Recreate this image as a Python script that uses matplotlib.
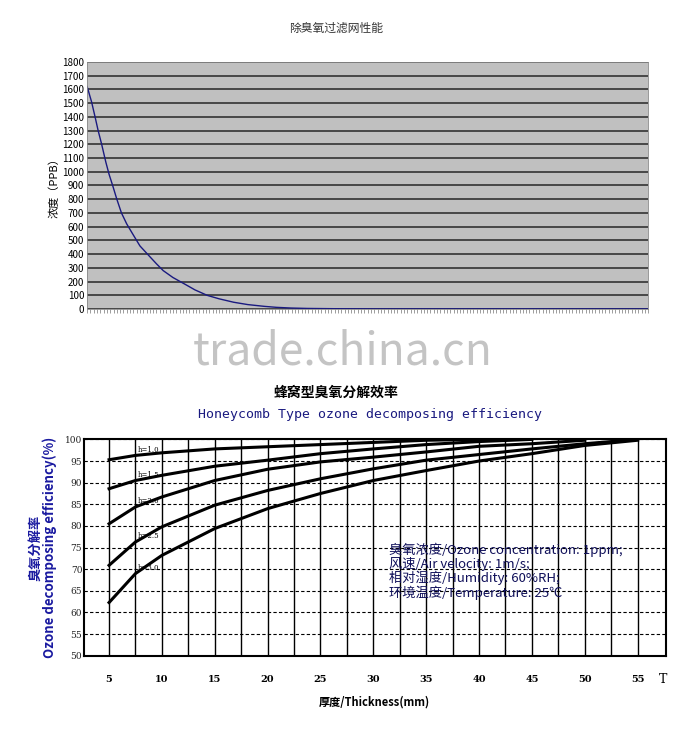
import matplotlib
matplotlib.use("Agg")
import matplotlib.pyplot as plt
import numpy as np

plt.rcParams['font.family'] = ['Noto Sans CJK SC', 'DejaVu Sans']

# top chart data (read points)
t_x = [0, 2, 3.6, 5, 6.6, 8.5, 10, 11.6, 13.5, 15.6, 18, 20.6, 24, 28.6, 31.5, 34.6, 39, 44.6,
       49, 54.6, 60, 66.6, 73, 80.6, 86, 92.6, 100, 112.6, 130, 150, 200, 255]
t_y = [1620, 1510, 1400, 1300, 1200, 1070, 980, 900, 800, 700, 620, 550, 460, 380, 330, 280,
       230, 180, 140, 100, 75, 50, 33, 20, 13, 8, 5, 3, 2, 2, 2, 2]
top_yticks = list(range(0, 1900, 100))

# bottom chart data
thick = [5, 7.5, 10, 15, 20, 25, 30, 35, 40, 45, 50, 55]
h10 = [95.3, 96.3, 96.9, 97.8, 98.3, 98.8, 99.3, 99.8, 100, None, None, None]
h15 = [88.6, 90.5, 91.7, 93.8, 95.2, 96.7, 97.8, 98.8, 99.5, 100, None, None]
h20 = [80.5, 84.4, 86.7, 90.5, 93.1, 94.8, 95.9, 97.1, 98.4, 99.0, 99.8, None]
h25 = [70.9, 76.3, 79.8, 84.8, 88.2, 90.9, 93.2, 95.2, 96.5, 97.8, 99.0, 100]
h30 = [62.3, 69.0, 73.2, 79.4, 84.0, 87.5, 90.5, 92.8, 95.0, 96.7, 98.6, 99.8]
series = [("h=1.0", h10), ("h=1.5", h15), ("h=2.0", h20), ("h=2.5", h25), ("h=3.0", h30)]
x_ticks = [5, 10, 15, 20, 25, 30, 35, 40, 45, 50, 55]
y_ticks = list(range(50, 101, 5))

fig = plt.figure(figsize=(6.86, 7.36), dpi=100)

# ---- top chart
ax1 = fig.add_axes([0.127, 0.580, 0.818, 0.336])
ax1.set_facecolor('#c0c0c0')
ax1.plot(t_x, t_y, color='#1a1a80', lw=1.0)
ax1.set_xlim(0, 255)
ax1.set_ylim(0, 1800)
ax1.set_yticks(top_yticks)
ax1.tick_params(axis='y', labelsize=7, length=0, pad=2)
ax1.set_xticks(np.arange(0, 256, 1.5))
ax1.tick_params(axis='x', length=3, labelbottom=False, color='#555555', width=0.4)
ax1.grid(axis='y', color='#333333', lw=1.2)
ax1.set_axisbelow(True)
for s in ax1.spines.values():
    s.set_color('#888888'); s.set_linewidth(0.6)
ax1.set_ylabel('浓度（PPB）', fontsize=8, labelpad=2)
fig.text(0.49, 0.961, '除臭氧过滤网性能', ha='center', va='center', fontsize=8.5, color='#333333')

fig.text(0.50, 0.522, 'trade.china.cn', ha='center', va='center', fontsize=32, color='#c4c4c4')

# ---- bottom chart
ax2 = fig.add_axes([0.122, 0.109, 0.849, 0.294])
for name, vals in series:
    xs = [x for x, v in zip(thick, vals) if v is not None]
    ys = [v for v in vals if v is not None]
    ax2.plot(xs, ys, color='black', lw=2.2)
    ax2.text(xs[1] + 0.2, ys[1] + 0.8, name, fontsize=5, family='DejaVu Serif')
ax2.set_xlim(2.6, 57.7)
ax2.set_ylim(50, 100)
ax2.set_xticks(np.arange(5, 56, 2.5), minor=False)
ax2.set_xticklabels([str(int(v)) if v in x_ticks else '' for v in np.arange(5, 56, 2.5)],
                    fontsize=7, fontweight='bold', family='DejaVu Serif')
ax2.tick_params(axis='x', length=0, pad=14)
ax2.set_yticks(y_ticks)
ax2.set_yticklabels([str(v) for v in y_ticks], fontsize=6.5, family='DejaVu Serif', color='#222222')
ax2.tick_params(axis='y', length=0, pad=1)
ax2.grid(axis='x', color='black', lw=1.0)
ax2.grid(axis='y', color='black', lw=0.8, ls=(0, (3, 2)))
for s in ax2.spines.values():
    s.set_color('black'); s.set_linewidth(1.5)
ax2.set_xlabel('厚度/Thickness(mm)', fontsize=8, fontweight='bold', labelpad=8)
ax2.set_ylabel('臭氧分解率\nOzone decomposing efficiency(%)', fontsize=9.5, fontweight='bold',
               color='#1a1aa0', labelpad=6, linespacing=1.0)
fig.text(0.49, 0.467, '蜂窝型臭氧分解效率', ha='center', va='center', fontsize=10, fontweight='bold')
fig.text(0.54, 0.437, 'Honeycomb Type ozone decomposing efficiency', ha='center', va='center',
         fontsize=9.5, family='DejaVu Sans Mono', color='#1a1a80')
info = ('臭氧浓度/Ozone concentration: 1ppm;\n风速/Air velocity: 1m/s;\n'
        '相对湿度/Humidity: 60%RH;\n环境温度/Temperature: 25℃')
ax2.text(31.5, 76.2, info, fontsize=9.5, color='#10105a', va='top', linespacing=1.0,
         family=['Noto Sans CJK SC', 'DejaVu Sans'])
fig.text(0.96, 0.072, 'T', fontsize=9, family='DejaVu Serif')

fig.savefig('out.png', dpi=100)
